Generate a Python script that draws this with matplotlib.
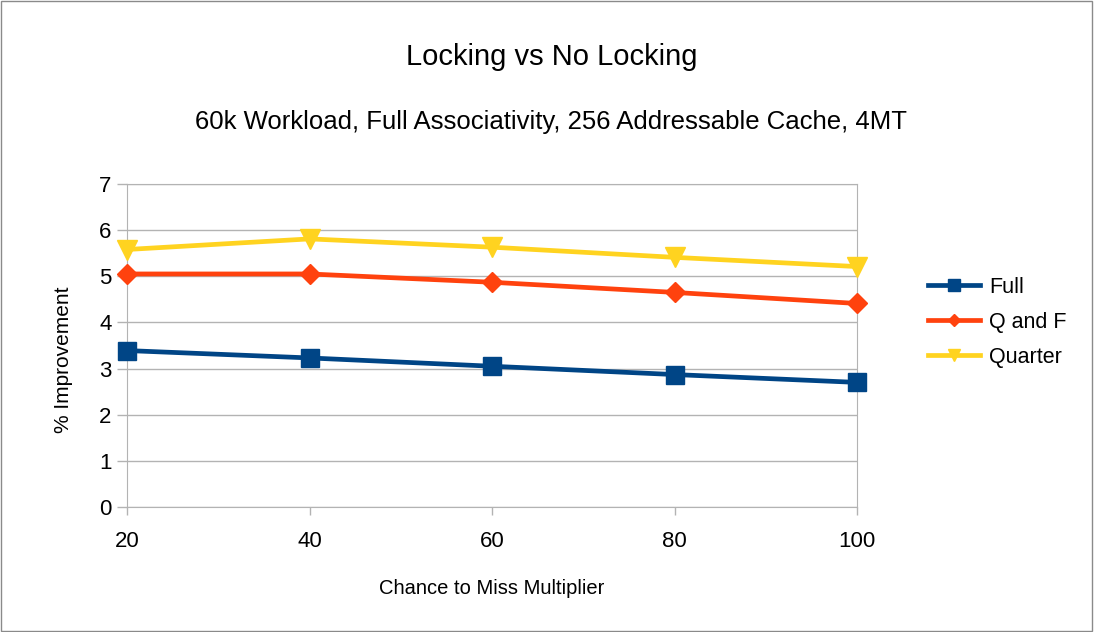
import matplotlib.pyplot as plt
from matplotlib.patches import Rectangle

plt.rcParams['font.family'] = ['Liberation Sans', 'DejaVu Sans']

# data
multiplier = [20, 40, 60, 80, 100]
full = [3.39, 3.23, 3.05, 2.87, 2.70]
q_and_f = [5.05, 5.05, 4.87, 4.65, 4.41]
quarter = [5.58, 5.81, 5.63, 5.41, 5.21]

series = [
    ("Full", full, "#004586", "s", 13),
    ("Q and F", q_and_f, "#ff420e", "D", 10),
    ("Quarter", quarter, "#ffd320", "v", 14),
]

fig = plt.figure(figsize=(10.94, 6.32), dpi=100)
ax = fig.add_axes([0.1161, 0.1978, 0.6673, 0.5111])

for name, vals, color, marker, ms in series:
    ax.plot(multiplier, vals, color=color, lw=3.4, marker=marker,
            markersize=ms, label=name, clip_on=False, zorder=3)

ax.set_xlim(20, 100)
ax.set_ylim(0, 7)
ax.set_xticks(multiplier)
ax.set_yticks(range(0, 8))
ax.grid(axis='y', color='#b3b3b3', lw=1)
for s in ax.spines.values():
    s.set_color('#b3b3b3')
ax.tick_params(colors='#b3b3b3', labelcolor='black', labelsize=16, width=1)
ax.tick_params(axis='x', length=6, pad=11)
ax.tick_params(axis='y', length=7, pad=4)
ax.set_axisbelow(True)

ax.set_xlabel("Chance to Miss Multiplier", fontsize=14.5, labelpad=20)
ax.set_ylabel("% Improvement", fontsize=15)
ax.yaxis.set_label_coords(-0.074, 0.455)

fig.text(0.504, 0.91, "Locking vs No Locking", ha='center', va='center', fontsize=21)
fig.text(0.504, 0.807, "60k Workload, Full Associativity, 256 Addressable Cache, 4MT",
         ha='center', va='center', fontsize=18.5)

fig.legend(loc='center left', bbox_to_anchor=(928 / 1094, 0.49), frameon=False,
           fontsize=15.5, handlelength=2.4, labelspacing=0.66, handletextpad=0.45,
           borderpad=0, borderaxespad=0, markerscale=0.65)

fig.patches.append(Rectangle((0.001, 0.001), 0.997, 0.997, transform=fig.transFigure,
                             fill=False, edgecolor='#8a8a8a', lw=1))

fig.savefig("out.png", dpi=100)
